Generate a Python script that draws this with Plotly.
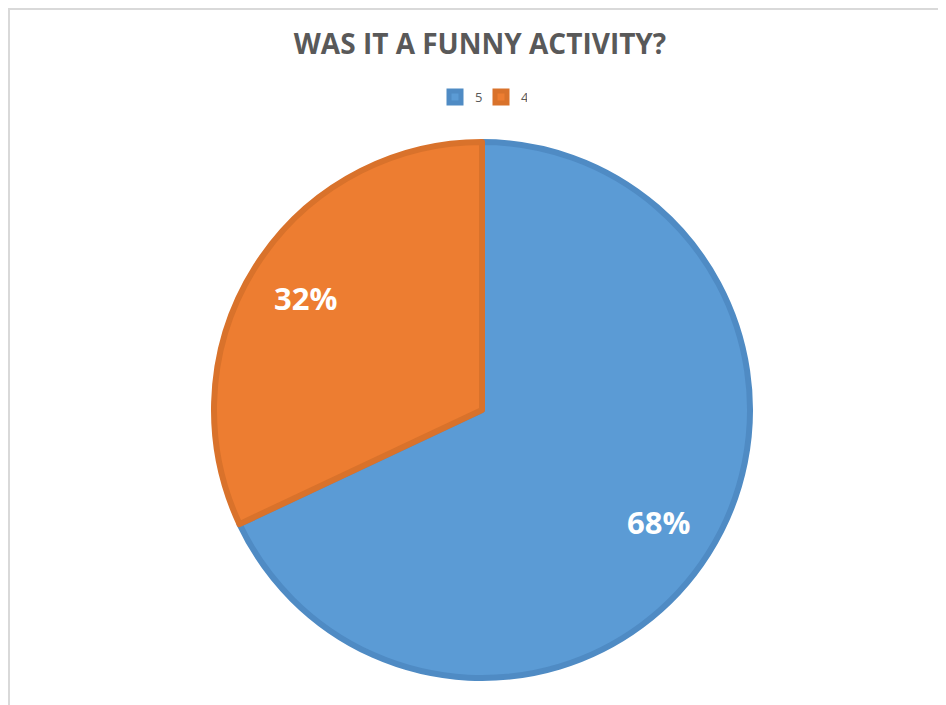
import math
import plotly.graph_objects as go

labels = ["5", "4"]
counts = [17, 8]
colors = ["#5B9BD5", "#ED7D31"]
edge_colors = ["#4F8BC4", "#D9722B"]

# page body has an 8px margin, so the figure is 8px smaller and shifted
OFF = 8
W, H = 946 - OFF, 705 - OFF
cx, cy, r = 482 - OFF, 410 - OFF, 268

fig = go.Figure(go.Pie(
    labels=labels,
    values=counts,
    sort=False,
    direction="clockwise",
    rotation=0,
    marker=dict(colors=colors, line=dict(color=edge_colors, width=6)),
    textinfo="none",
    domain=dict(x=[(cx - r) / W, (cx + r) / W], y=[1 - (cy + r) / H, 1 - (cy - r) / H]),
    hoverinfo="label+percent",
))

# percentage labels placed along each slice's mid-angle (Excel-style)
total = sum(counts)
annotations = []
start = 0.0
for v in counts:
    frac = v / total
    mid = (start + frac / 2) * 2 * math.pi
    px = cx + 0.78 * r * math.sin(mid)
    py = cy - 0.78 * r * math.cos(mid)
    annotations.append(dict(
        text=f"<b>{round(frac * 100)}%</b>", x=px / W, y=1 - py / H,
        xref="paper", yref="paper", showarrow=False,
        xanchor="center", yanchor="middle",
        font=dict(family="Open Sans", size=31, color="white"),
    ))
    start += frac

fig.update_layout(
    width=W, height=H,
    margin=dict(l=0, r=0, t=0, b=0),
    paper_bgcolor="white",
    plot_bgcolor="white",
    title=dict(text="<b>WAS IT A FUNNY ACTIVITY?</b>", x=(480 - OFF) / W, xanchor="center",
               y=1 - (44 - OFF) / H, yanchor="middle",
               font=dict(family="Open Sans", size=28, color="#595959")),
    showlegend=True,
    legend=dict(orientation="h", x=(481 - OFF) / W, xanchor="center", y=1 - (97 - OFF) / H,
                yanchor="middle",
                font=dict(family="Open Sans", size=13, color="#595959"),
                itemwidth=30, entrywidth=1, traceorder="normal"),
    annotations=annotations,
    shapes=[
        dict(type="line", xref="paper", yref="paper", x0=0, x1=1, y0=1 - 1 / H, y1=1 - 1 / H,
             line=dict(color="#D9D9D9", width=2)),
        dict(type="line", xref="paper", yref="paper", x0=1 / W, x1=1 / W, y0=0, y1=1,
             line=dict(color="#D9D9D9", width=2)),
    ],
)

fig.write_html("out.html")
